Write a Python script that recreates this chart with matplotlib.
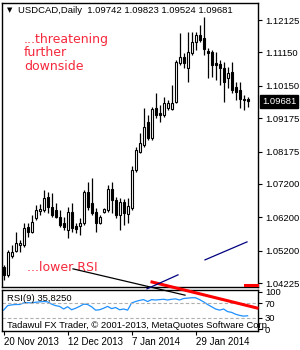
import numpy as np
import pandas as pd
import matplotlib
matplotlib.use("Agg")
import matplotlib.pyplot as plt

plt.rcParams['font.family'] = ['Liberation Sans', 'DejaVu Sans']

# daily bars, 20 Nov 2013 .. 17 Feb 2014 (no bar on 25 Dec and 1 Jan)
dates = [d for d in pd.bdate_range("2013-11-20", "2014-02-17")
         if d.strftime("%m-%d") not in ("12-25", "01-01")]

opens = [1.0471, 1.0447, 1.0504, 1.0519, 1.0537, 1.0537, 1.0591, 1.0576, 1.0618, 1.0639,
         1.0642, 1.0681, 1.0651, 1.0642, 1.0621, 1.0603, 1.0582, 1.0636, 1.0594, 1.0594,
         1.0603, 1.0696, 1.0663, 1.0636, 1.0603, 1.0636, 1.0642, 1.0705, 1.0672, 1.0627,
         1.0666, 1.0630, 1.0648, 1.0762, 1.0816, 1.0837, 1.0906, 1.0858, 1.0948, 1.0933,
         1.0927, 1.0948, 1.0945, 1.0966, 1.1083, 1.1101, 1.1068, 1.1113, 1.1146, 1.1167,
         1.1158, 1.1119, 1.1116, 1.1083, 1.1080, 1.1068, 1.1038, 1.1056, 1.1011, 1.1002,
         1.0975, 1.09742]
highs = [1.0477, 1.0522, 1.0537, 1.0576, 1.0552, 1.0603, 1.0603, 1.0627, 1.0657, 1.0660,
         1.0702, 1.0696, 1.0693, 1.0663, 1.0642, 1.0621, 1.0651, 1.0663, 1.0603, 1.0618,
         1.0702, 1.0726, 1.0738, 1.0648, 1.0627, 1.0648, 1.0717, 1.0726, 1.0681, 1.0678,
         1.0675, 1.0678, 1.0774, 1.0831, 1.0873, 1.0948, 1.0927, 1.0951, 1.0993, 1.0957,
         1.0981, 1.0972, 1.1017, 1.1092, 1.1174, 1.1113, 1.1177, 1.1177, 1.1177, 1.1198,
         1.1222, 1.1128, 1.1122, 1.1116, 1.1092, 1.1086, 1.1071, 1.1086, 1.1026, 1.1026,
         1.0987, 1.09823]
lows = [1.0432, 1.0441, 1.0498, 1.0516, 1.0516, 1.0531, 1.0561, 1.0573, 1.0612, 1.0627,
        1.0636, 1.0633, 1.0621, 1.0618, 1.0591, 1.0582, 1.0558, 1.0576, 1.0573, 1.0567,
        1.0597, 1.0642, 1.0627, 1.0576, 1.0600, 1.0633, 1.0636, 1.0633, 1.0618, 1.0582,
        1.0597, 1.0603, 1.0642, 1.0756, 1.0813, 1.0831, 1.0852, 1.0852, 1.0918, 1.0906,
        1.0921, 1.0942, 1.0942, 1.0963, 1.1077, 1.1068, 1.1026, 1.1107, 1.1122, 1.1146,
        1.1107, 1.1038, 1.1041, 1.1032, 1.1017, 1.0966, 1.1008, 1.0993, 1.0972, 1.0948,
        1.0942, 1.09524]
closes = [1.0447, 1.0516, 1.0516, 1.0543, 1.0543, 1.0588, 1.0576, 1.0606, 1.0642, 1.0645,
          1.0678, 1.0651, 1.0627, 1.0621, 1.0597, 1.0591, 1.0636, 1.0588, 1.0585, 1.0603,
          1.0696, 1.0651, 1.0633, 1.0603, 1.0621, 1.0645, 1.0705, 1.0672, 1.0627, 1.0666,
          1.0633, 1.0654, 1.0762, 1.0822, 1.0843, 1.0891, 1.0858, 1.0945, 1.0927, 1.0927,
          1.0963, 1.0963, 1.0963, 1.1086, 1.1101, 1.1083, 1.1116, 1.1146, 1.1167, 1.1152,
          1.1125, 1.1113, 1.1077, 1.1077, 1.1068, 1.1026, 1.1053, 1.1002, 1.0996, 1.0975,
          1.0972, 1.09681]

rsi = [51, 63, 65, 66, 66, 70, 71, 70, 72, 73, 74, 73, 67, 63, 61, 54, 60, 52, 56, 61,
       67, 66, 60, 51, 52, 56, 61, 55, 58, 52, 54, 51, 70, 74, 77, 79, 74, 79, 78, 79,
       80, 78, 80, 81, 78, 82, 83, 84, 84, 79, 73, 66, 60, 54, 51, 54, 47, 45, 40, 37,
       35, 36]
rsi_last = "35,8250"

price_ticks = [1.12125, 1.11150, 1.10150, 1.09175, 1.08175, 1.07200, 1.06200, 1.05200, 1.04225]
rsi_ticks = [100, 70, 30, 0]
date_ticks = [0, 16, 32, 48]

# drawn objects: (bar0, price0, bar1, price1)
black_line = (17.35, 1.0465, 45.35, 1.0386)
red_line = (37.1, 1.04255, 63.35, 1.03474)
red_stub = (60.35, 1.0417, 63.35, 1.0417)
navy_lines = [(35.85, 1.0405, 43.6, 1.0447), (50.35, 1.0492, 60.85, 1.0546)]

red_txt = '#f5283c'

fig = plt.figure(figsize=(3, 3.5), dpi=100)
ax = fig.add_axes([2/300, 1 - 287/350, 256/300, 284/350])
ax2 = fig.add_axes([2/300, 1 - 331/350, 256/300, 41/350])
ax.set_zorder(2)
ax.patch.set_alpha(0)

x = np.arange(len(closes))
o = np.array(opens)
c = np.array(closes)
up = c >= o
ax.vlines(x, lows, highs, color='black', lw=0.9, zorder=2)
ax.bar(x, np.maximum(np.abs(c - o), 0.00008), bottom=np.minimum(o, c), width=0.55,
       color=np.where(up, 'white', 'black'), edgecolor='black', lw=0.8, zorder=3)

ax.set_xlim(-0.4, 63.6)
ax.set_ylim(1.04105, 1.12636)
ax.set_xticks([])
ax.yaxis.tick_right()
ax.set_yticks(price_ticks)
ax.set_yticklabels([f"{v:.5f}" for v in price_ticks])
ax.tick_params(axis='y', length=3, width=0.8, pad=2, labelsize=6.8)
for s in ax.spines.values():
    s.set_linewidth(1)

ax.annotate(f"{closes[-1]:.5f}", xy=(1, closes[-1]), xycoords=('axes fraction', 'data'),
            xytext=(3, 0), textcoords='offset points', ha='left', va='center',
            color='white', fontsize=6.8,
            bbox=dict(boxstyle='square,pad=0.2', fc='black', ec='black'))

# drawings
for seg, col, lw in [(black_line, 'black', 0.9), (red_line, 'red', 2.2), (red_stub, 'red', 2.2)]:
    ax.plot([seg[0], seg[2]], [seg[1], seg[3]], color=col, lw=lw, clip_on=False, zorder=4)
for seg in navy_lines:
    ax.plot([seg[0], seg[2]], [seg[1], seg[3]], color='#000080', lw=0.9, clip_on=False, zorder=4)

ax.text(0.018, 0.975, "\u25bc", transform=ax.transAxes, fontsize=5, va='center', ha='left',
        family='DejaVu Sans')
ax.text(0.0625, 0.975, f"USDCAD,Daily  {opens[-1]:.5f} {highs[-1]:.5f} {lows[-1]:.5f} {closes[-1]:.5f}",
        transform=ax.transAxes, fontsize=6.8, va='center', ha='left')
ax.text(0.086, 0.895, "...threatening\nfurther\ndownside", transform=ax.transAxes,
        fontsize=9, color=red_txt, va='top', ha='left', linespacing=1.05, family='DejaVu Sans')
ax.text(0.098, 0.067, "...lower RSI", transform=ax.transAxes, fontsize=9, color=red_txt,
        va='center', ha='left', family='DejaVu Sans')

# RSI window
ax2.plot(x, rsi, color='#1e90ff', lw=0.9)
for lvl in (70, 30):
    ax2.axhline(lvl, color='#b0b0b0', lw=0.8, ls=(0, (3, 2)))
ax2.set_xlim(-0.4, 63.6)
ax2.set_ylim(-4.7, 104.7)
ax2.yaxis.tick_right()
ax2.set_yticks(rsi_ticks)
ax2.set_yticklabels([str(v) for v in rsi_ticks])
ax2.tick_params(axis='y', length=3, width=0.8, pad=2, labelsize=6.8)
ax2.set_xticks(date_ticks)
ax2.set_xticklabels([f"{dates[i].day} {dates[i].strftime('%b %Y')}" for i in date_ticks],
                    ha='left')
ax2.tick_params(axis='x', length=3, width=0.8, pad=1, labelsize=7)
for s in ax2.spines.values():
    s.set_linewidth(1)
ax2.text(0.02, 0.80, f"RSI(9) {rsi_last}", transform=ax2.transAxes,
         fontsize=6.8, va='center', ha='left')
ax2.text(0.02, 0.146, "Tadawul FX Trader, \u00a9 2001-2013, MetaQuotes Software Corp.",
         transform=ax2.transAxes, fontsize=6.8, va='center', ha='left')

fig.savefig("out.png", dpi=100)
